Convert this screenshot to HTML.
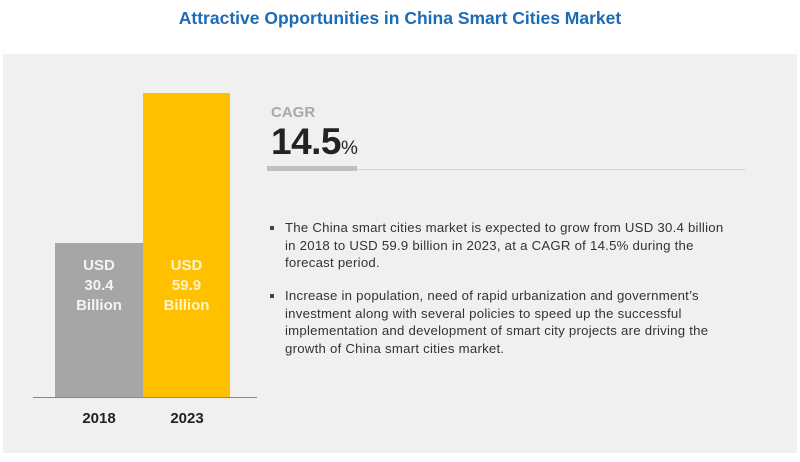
<!DOCTYPE html>
<html><head><style>
body{margin:0;width:800px;height:462px;background:#fff;position:relative;font-family:"Liberation Sans",sans-serif;overflow:hidden}
.a{position:absolute}
.title{left:0;width:800px;top:8px;text-align:center;color:#1c6bb5;font-weight:bold;font-size:17.5px}
.panel{left:3px;top:54px;width:794px;height:399px;background:#f0f0f0}
.bar{color:#fff;font-weight:bold;font-size:15px;text-align:center;line-height:20px}
.yr{font-weight:bold;font-size:15px;color:#222;width:88px;text-align:center}
.txt{font-size:13.2px;letter-spacing:0.25px;color:#333;line-height:17.5px;left:285px;width:520px;white-space:nowrap}
.bul{left:270px;width:4px;height:4px;background:#444}
</style></head><body>
<div class="a title">Attractive Opportunities in China Smart Cities Market</div>
<div class="a panel"></div>
<div class="a" style="left:55px;top:243px;width:88px;height:154px;background:#a6a6a6"></div>
<div class="a" style="left:143px;top:93px;width:87px;height:304px;background:#ffc000"></div>
<div class="a" style="left:33px;top:397px;width:224px;height:1px;background:#888"></div>
<div class="a bar" style="left:55px;top:256px;width:88px;color:#f4f4f4">USD<br>30.4<br>Billion</div>
<div class="a bar" style="left:143px;top:256px;width:87px;color:#fff3cc">USD<br>59.9<br>Billion</div>
<div class="a yr" style="left:55px;top:410px">2018</div>
<div class="a yr" style="left:143px;top:410px">2023</div>
<div class="a" style="left:271px;top:104px;font-size:15px;font-weight:bold;color:#a8a8a8">CAGR</div>
<div class="a" style="left:271px;top:121px;font-size:37px;font-weight:bold;color:#222;letter-spacing:-0.5px">14.5<span style="font-size:19px;font-weight:normal">%</span></div>
<div class="a" style="left:267px;top:166px;width:90px;height:5px;background:#c0c0c0"></div>
<div class="a" style="left:357px;top:169px;width:388px;height:1px;background:#d0d0d0"></div>
<div class="a bul" style="top:226px"></div>
<div class="a txt" style="top:219px">The China smart cities market is expected to grow from USD 30.4 billion<br>in 2018 to USD 59.9 billion in 2023, at a CAGR of 14.5% during the<br>forecast period.</div>
<div class="a bul" style="top:294px"></div>
<div class="a txt" style="top:287px">Increase in population, need of rapid urbanization and government’s<br>investment along with several policies to speed up the successful<br>implementation and development of smart city projects are driving the<br>growth of China smart cities market.</div>
</body></html>
